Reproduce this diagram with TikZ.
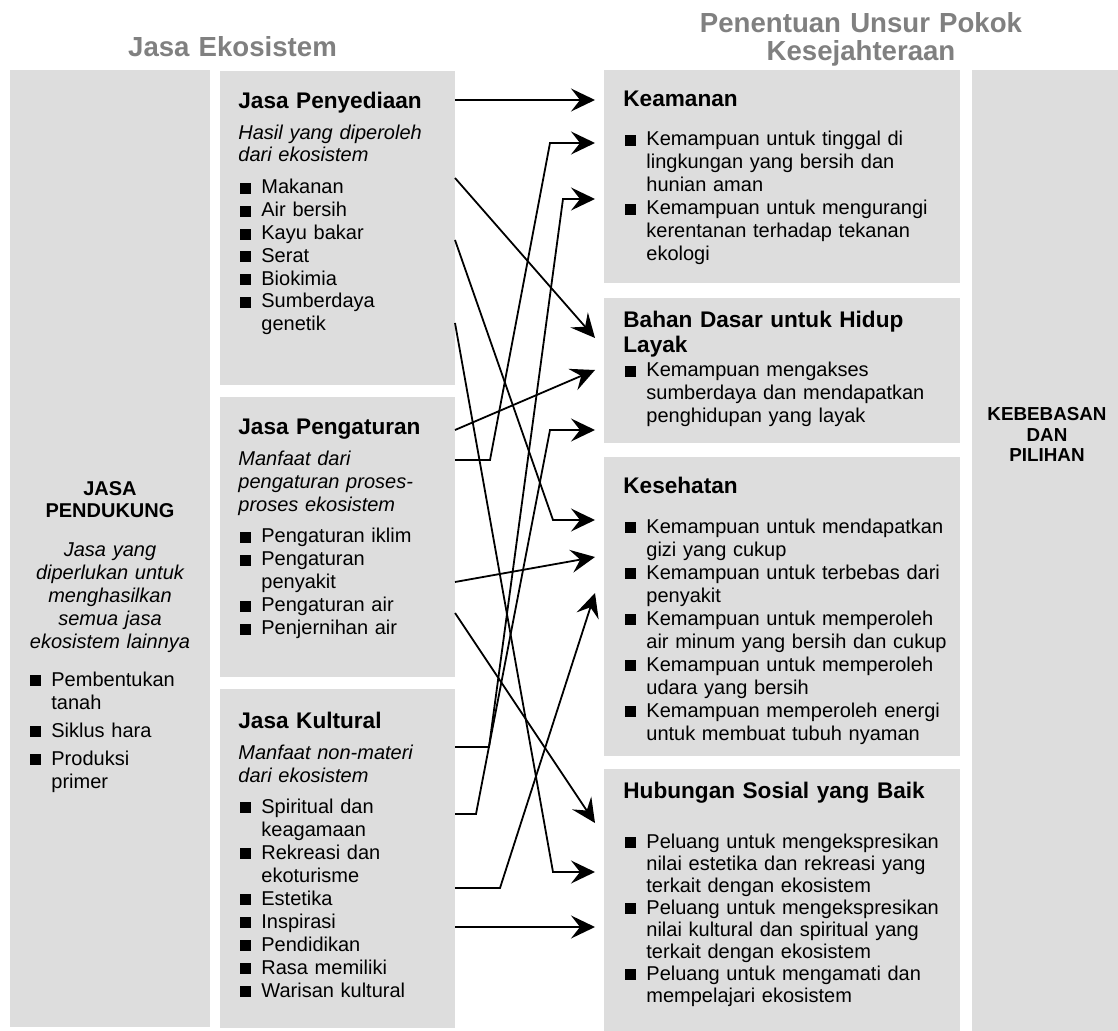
\documentclass[tikz,border=0pt]{standalone}
\usepackage{fontspec}
\setmainfont{Liberation Sans}
\usetikzlibrary{arrows.meta}

\definecolor{boxgray}{RGB}{221,221,221}
\definecolor{titlegray}{RGB}{128,128,128}
\newcommand\sqb{\makebox[10.5pt][l]{\rule{5.5pt}{5.5pt}}}
\newcommand\ind{\hspace*{10.5pt}}

\begin{document}
\begin{tikzpicture}[x=0.5pt,y=-0.5pt,
  panel/.style={fill=boxgray,inner sep=0pt,outer sep=0pt,anchor=north west},
  txt/.style={inner sep=0pt,anchor=base west,align=left,font=\fontsize{10}{11.5}\selectfont},
  hd/.style={txt,font=\fontsize{11.3}{12.5}\selectfont\bfseries},
  sub/.style={txt,font=\fontsize{10}{11}\selectfont\itshape},
  mid/.style={text width=105pt},
  rgt/.style={text width=170pt},
  ttl/.style={inner sep=0pt,anchor=base,align=center,text width=220pt,text=titlegray,
    font=\fontsize{13.8}{14}\selectfont\bfseries},
  link/.style={line width=0.9pt,-{Stealth[length=12pt,width=11.5pt,inset=4.5pt]}}]
\useasboundingbox (0,0) rectangle (1118,1031);

% headings
\node[ttl] (ttleko) at (232.5,57) {Jasa Ekosistem};
\node[ttl] (ttlsej) at (861,33) {Penentuan Unsur Pokok\\Kesejahteraan};

% panels
\node[panel,minimum width=100pt,minimum height=478.5pt] (pendukung) at (10,70) {};
\node[panel,minimum width=117.5pt,minimum height=157pt] (penyediaan) at (220,71) {};
\node[panel,minimum width=117.5pt,minimum height=140pt] (pengaturan) at (220,397) {};
\node[panel,minimum width=117.5pt,minimum height=169.5pt] (kultural) at (220,689) {};
\node[panel,minimum width=178pt,minimum height=106.5pt] (keamanan) at (604,70) {};
\node[panel,minimum width=178pt,minimum height=72.5pt] (bahan) at (604,298) {};
\node[panel,minimum width=178pt,minimum height=149.5pt] (kesehatan) at (604,457) {};
\node[panel,minimum width=178pt,minimum height=131pt] (hubungan) at (604,769) {};
\node[panel,minimum width=73pt,minimum height=480.5pt] (kebebasan) at (972,70) {};

% jasa pendukung
\node[txt,anchor=base,align=center,text width=96pt,font=\fontsize{10}{11.3}\selectfont\bfseries]
  (pdkhd) at (110,495) {JASA\\PENDUKUNG};
\node[sub,anchor=base,align=center,text width=96pt,font=\fontsize{10}{11.5}\selectfont\itshape]
  (pdksub) at (110,556) {Jasa yang\\diperlukan untuk\\menghasilkan\\semua jasa\\ekosistem lainnya};
\node[txt,text width=88pt] (pdkls) at (30,686)
  {\sqb Pembentukan\\\ind tanah\\[2.5pt]\sqb Siklus hara\\[2.5pt]\sqb Produksi\\\ind primer};

% jasa penyediaan
\node[hd,mid] (pvdhd) at (238,109) {Jasa Penyediaan};
\node[sub,mid] (pvdsub) at (238,140) {Hasil yang diperoleh\\dari ekosistem};
\node[txt,mid,font=\fontsize{10}{11.4}\selectfont] (pvdls) at (240,194)
  {\sqb Makanan\\\sqb Air bersih\\\sqb Kayu bakar\\\sqb Serat\\\sqb Biokimia\\\sqb Sumberdaya\\\ind genetik};

% jasa pengaturan
\node[hd,mid] (pgthd) at (238,435) {Jasa Pengaturan};
\node[sub,mid,font=\fontsize{10}{11.5}\selectfont\itshape] (pgtsub) at (238,466)
  {Manfaat dari\\pengaturan proses-\\proses ekosistem};
\node[txt,mid] (pgtls) at (240,542.5)
  {\sqb Pengaturan iklim\\\sqb Pengaturan\\\ind penyakit\\\sqb Pengaturan air\\\sqb Penjernihan air};

% jasa kultural
\node[hd,mid] (klthd) at (238,728) {Jasa Kultural};
\node[sub,mid,font=\fontsize{10}{11.5}\selectfont\itshape] (kltsub) at (238,759)
  {Manfaat non-materi\\dari ekosistem};
\node[txt,mid] (kltls) at (240,813)
  {\sqb Spiritual dan\\\ind keagamaan\\\sqb Rekreasi dan\\\ind ekoturisme\\\sqb Estetika\\\sqb Inspirasi\\\sqb Pendidikan\\\sqb Rasa memiliki\\\sqb Warisan kultural};

% keamanan
\node[hd,rgt] (kmnhd) at (623,107) {Keamanan};
\node[txt,rgt] (kmnls) at (625,146)
  {\sqb Kemampuan untuk tinggal di\\\ind lingkungan yang bersih dan\\\ind hunian aman\\
   \sqb Kemampuan untuk mengurangi\\\ind kerentanan terhadap tekanan\\\ind ekologi};

% bahan dasar
\node[hd,rgt] (bhnhd) at (623,328) {Bahan Dasar untuk Hidup\\Layak};
\node[txt,rgt] (bhnls) at (625,377)
  {\sqb Kemampuan mengakses\\\ind sumberdaya dan mendapatkan\\\ind penghidupan yang layak};

% kesehatan
\node[hd,rgt] (kshhd) at (623,494) {Kesehatan};
\node[txt,rgt] (kshls) at (625,533)
  {\sqb Kemampuan untuk mendapatkan\\\ind gizi yang cukup\\
   \sqb Kemampuan untuk terbebas dari\\\ind penyakit\\
   \sqb Kemampuan untuk memperoleh\\\ind air minum yang bersih dan cukup\\
   \sqb Kemampuan untuk memperoleh\\\ind udara yang bersih\\
   \sqb Kemampuan memperoleh energi\\\ind untuk membuat tubuh nyaman};

% hubungan sosial
\node[hd,rgt] (hbghd) at (623,798) {Hubungan Sosial yang Baik};
\node[txt,rgt,font=\fontsize{10}{11}\selectfont] (hbgls) at (625,848)
  {\sqb Peluang untuk mengekspresikan\\\ind nilai estetika dan rekreasi yang\\\ind terkait dengan ekosistem\\
   \sqb Peluang untuk mengekspresikan\\\ind nilai kultural dan spiritual yang\\\ind terkait dengan ekosistem\\
   \sqb Peluang untuk mengamati dan\\\ind mempelajari ekosistem};

% kebebasan
\node[txt,anchor=base,align=center,text width=70pt,font=\fontsize{9.4}{10.3}\selectfont\bfseries]
  (kbbhd) at (1047,420.7) {KEBEBASAN\\DAN\\PILIHAN};

% arrow ends
\foreach \c/\y in {py1/100,py2/178,py3/240,py4/323,pg1/430,pg2/460,pg3/582,pg4/613,
                   kl1/747,kl2/814,kl3/888,kl4/927}
  \coordinate (\c) at (455,\y);
\foreach \c/\y in {ka1/100,ka2/143,ka3/199,bd1/338,bd2/370,bd3/430,
                   ks1/520,ks2/557,ks3/593,hs1/823,hs2/872,hs3/927}
  \coordinate (\c) at (595,\y);

\draw[link] (py1) -- (ka1);
\draw[link] (py2) -- (bd1);
\draw[link] (py3) -- ([xshift=-21pt]ks1) -- (ks1);
\draw[link] (py4) -- ([xshift=-21pt]hs2) -- (hs2);
\draw[link] (pg1) -- (bd2);
\draw[link] (pg2) -- ++(35,0) -- ([xshift=-22.5pt]ka2) -- (ka2);
\draw[link] (pg3) -- (ks2);
\draw[link] (pg4) -- (hs1);
\draw[link] (kl1) -- ++(34,0) -- ([xshift=-16pt]ka3) -- (ka3);
\draw[link] (kl2) -- ++(21,0) -- ([xshift=-22.5pt]bd3) -- (bd3);
\draw[link] (kl3) -- ++(45,0) -- (ks3);
\draw[link] (kl4) -- (hs3);
\end{tikzpicture}
\end{document}
